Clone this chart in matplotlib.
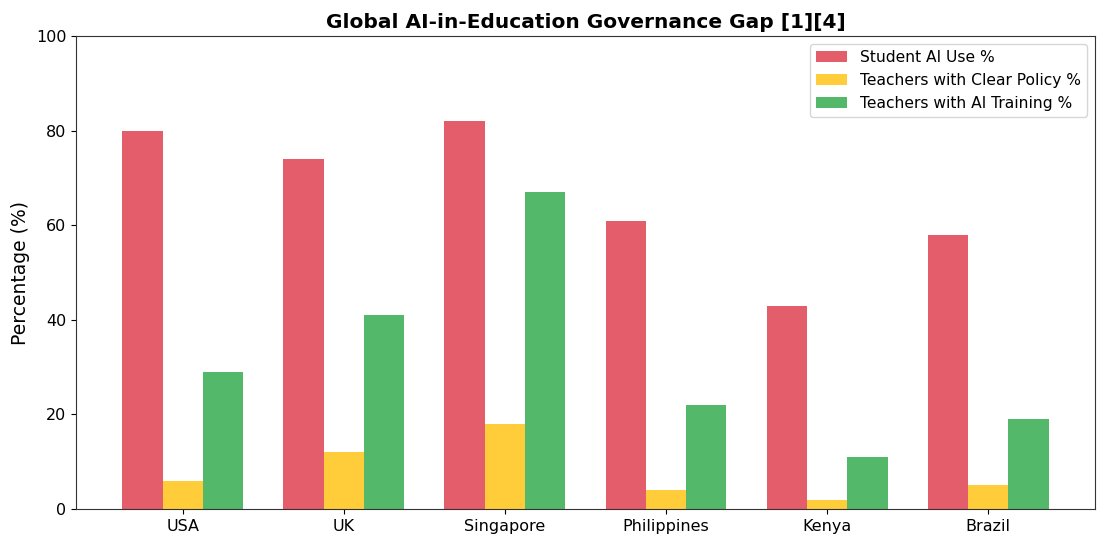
import matplotlib
matplotlib.use("Agg")
import matplotlib.pyplot as plt
import numpy as np

countries = ["USA", "UK", "Singapore", "Philippines", "Kenya", "Brazil"]
student_use = [80, 74, 82, 61, 43, 58]
clear_policy = [6, 12, 18, 4, 2, 5]
ai_training = [29, 41, 67, 22, 11, 19]

x = np.arange(len(countries))
w = 0.25

fig, ax = plt.subplots(figsize=(11.06, 5.47), dpi=100)
fig.subplots_adjust(left=0.0687, right=0.990, bottom=0.0695, top=0.934)

ax.bar(x - w, student_use, w, color="#dc3545", alpha=0.8, label="Student AI Use %")
ax.bar(x, clear_policy, w, color="#ffc107", alpha=0.8, label="Teachers with Clear Policy %")
ax.bar(x + w, ai_training, w, color="#28a745", alpha=0.8, label="Teachers with AI Training %")

ax.set_xticks(x)
ax.set_xticklabels(countries)
ax.set_ylim(0, 100)
ax.tick_params(labelsize=11.5)
for s in ax.spines.values():
    s.set_color("#333333")
ax.set_ylabel("Percentage (%)", fontsize=13.5)
ax.set_title("Global AI-in-Education Governance Gap [1][4]", fontsize=14.5, fontweight="bold")
ax.legend(loc="upper right", fontsize=11.2)

fig.savefig("out.png", dpi=100)
